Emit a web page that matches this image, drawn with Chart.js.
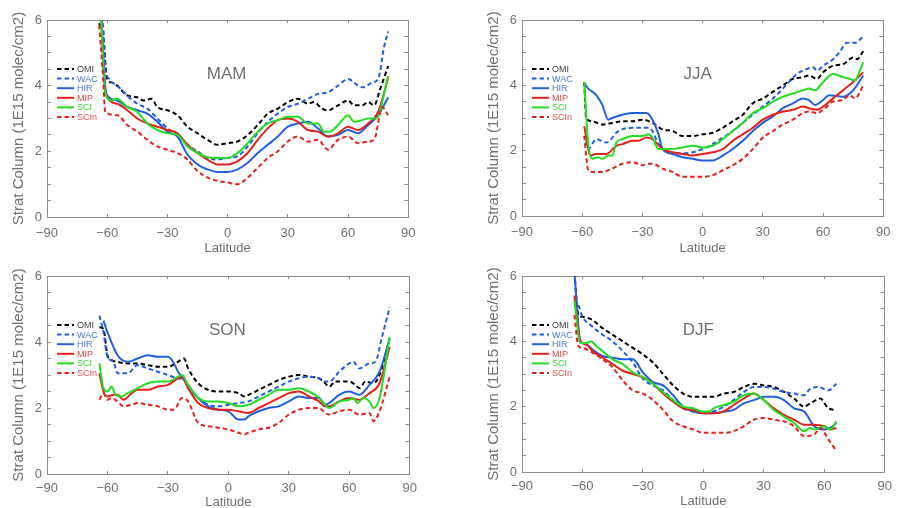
<!DOCTYPE html>
<html>
<head>
<meta charset="utf-8">
<script src="https://cdn.jsdelivr.net/npm/chart.js@4"></script>
<style>
html, body { margin: 0; padding: 0; background: #fff; overflow: hidden; }
canvas { position: absolute; }
</style>
</head>
<body>
<canvas id="mam" width="427" height="256" style="left:0;top:0"></canvas>
<canvas id="jja" width="427" height="256" style="left:475px;top:0"></canvas>
<canvas id="son" width="427" height="254" style="left:0;top:256px"></canvas>
<canvas id="djf" width="427" height="253" style="left:475px;top:256px"></canvas>
<script>
// Series names, in legend order
const SERIES = ['OMI', 'WAC', 'HIR', 'MIP', 'SCI', 'SCIn'];
const X_TICKS = [-90, -60, -30, 0, 30, 60, 90];
const Y_LABELS = [0, 2, 4, 6];

// [latitude, column] pairs
const mamOMI  = [[-64,5.9],[-62,5.5],[-60,4.2],[-58,4.1],[-55,4.0],[-50,3.7],[-45,3.65],[-42,3.55],[-38,3.6],[-35,3.35],[-30,3.25],[-25,3.1],[-20,2.75],[-15,2.55],[-10,2.35],[-5,2.2],[0,2.25],[5,2.3],[10,2.5],[15,2.8],[20,3.15],[25,3.3],[30,3.5],[35,3.6],[40,3.45],[43,3.5],[47,3.3],[50,3.25],[55,3.4],[60,3.55],[63,3.4],[67,3.4],[70,3.5],[73,3.4],[76,3.9],[80,4.6]];
const mamWAC  = [[-64,6.1],[-62,5.8],[-61,4.6],[-59,4.2],[-55,4.0],[-50,3.7],[-45,3.45],[-40,3.3],[-35,3.0],[-30,2.7],[-25,2.5],[-20,2.2],[-15,2.0],[-10,1.8],[-5,1.75],[0,1.8],[5,1.85],[10,2.15],[15,2.55],[20,2.9],[25,3.15],[30,3.35],[35,3.45],[40,3.6],[45,3.75],[50,3.8],[55,4.0],[60,4.2],[65,4.0],[68,3.95],[72,4.1],[75,4.2],[78,5.2],[80,5.65]];
const mamHIR  = [[-63,6.2],[-61,4.0],[-60,3.7],[-55,3.55],[-50,3.35],[-45,3.25],[-40,3.15],[-35,2.9],[-30,2.6],[-25,2.45],[-20,1.9],[-15,1.6],[-10,1.45],[-5,1.37],[0,1.37],[5,1.45],[10,1.65],[15,1.95],[20,2.2],[25,2.45],[30,2.75],[35,2.85],[40,2.9],[45,2.7],[50,2.45],[55,2.5],[60,2.65],[65,2.55],[70,2.8],[75,3.1],[80,3.65]];
const mamMIP  = [[-63,6.0],[-61,3.8],[-55,3.45],[-50,3.25],[-45,3.0],[-40,2.85],[-35,2.75],[-30,2.65],[-25,2.55],[-20,2.2],[-15,1.95],[-10,1.75],[-5,1.6],[0,1.6],[5,1.7],[10,1.95],[15,2.35],[20,2.7],[25,2.95],[30,3.0],[35,2.9],[40,2.65],[45,2.6],[50,2.45],[55,2.55],[60,2.75],[65,2.65],[70,2.85],[75,3.2],[80,4.25]];
const mamSCI  = [[-63,6.0],[-61,3.8],[-58,3.55],[-55,3.6],[-50,3.35],[-45,3.2],[-40,2.85],[-35,2.65],[-30,2.55],[-25,2.5],[-20,2.15],[-15,1.95],[-10,1.82],[-5,1.8],[0,1.8],[5,1.95],[10,2.25],[15,2.6],[20,2.85],[25,2.95],[30,3.05],[35,3.05],[40,2.85],[45,2.85],[48,2.6],[51,2.6],[55,2.8],[60,3.1],[63,2.9],[67,2.95],[70,3.0],[74,3.0],[80,4.3]];
const mamSCIn = [[-64,5.85],[-62,4.2],[-61,3.2],[-55,3.1],[-50,2.8],[-45,2.6],[-40,2.35],[-35,2.15],[-30,2.05],[-25,1.95],[-20,1.75],[-15,1.4],[-10,1.2],[-5,1.1],[0,1.05],[5,1.0],[10,1.2],[15,1.5],[20,1.8],[25,2.0],[30,2.3],[35,2.45],[40,2.3],[45,2.35],[50,2.05],[55,2.35],[60,2.45],[65,2.25],[70,2.3],[73,2.35],[77,3.35],[80,3.1]];

const jjaOMI  = [[-59,4.1],[-58,3.0],[-55,2.9],[-50,2.8],[-45,2.85],[-40,2.9],[-35,2.9],[-30,2.95],[-25,2.85],[-20,2.65],[-15,2.6],[-10,2.45],[-5,2.45],[0,2.5],[5,2.55],[10,2.7],[15,2.9],[20,3.1],[25,3.45],[30,3.6],[35,3.8],[40,4.0],[45,4.2],[50,4.25],[53,4.3],[57,4.2],[60,4.4],[65,4.6],[70,4.65],[75,4.85],[77,4.8],[80,5.05]];
const jjaWAC  = [[-58,2.3],[-57,2.05],[-53,2.35],[-48,2.25],[-42,2.6],[-35,2.7],[-27,2.7],[-25,2.6],[-22,2.2],[-18,2.0],[-10,1.92],[-5,1.95],[0,2.05],[5,2.2],[10,2.4],[15,2.6],[20,2.85],[25,3.1],[30,3.35],[35,3.6],[40,3.9],[43,4.1],[47,4.35],[52,4.5],[55,4.55],[57,4.45],[60,4.6],[65,4.8],[68,5.0],[72,5.3],[76,5.3],[80,5.5]];
const jjaHIR  = [[-59,4.05],[-57,3.9],[-53,3.7],[-50,3.4],[-47,2.95],[-45,3.0],[-40,3.1],[-35,3.15],[-28,3.15],[-25,2.95],[-22,2.5],[-20,2.05],[-15,1.9],[-10,1.8],[-5,1.75],[0,1.7],[5,1.7],[10,1.85],[15,2.05],[20,2.3],[25,2.6],[30,2.85],[35,3.05],[40,3.3],[45,3.45],[50,3.6],[53,3.55],[56,3.4],[60,3.55],[63,3.7],[70,3.65],[75,3.85],[80,4.3]];
const jjaMIP  = [[-59,2.75],[-56,1.85],[-53,1.9],[-48,1.9],[-43,2.15],[-40,2.2],[-35,2.3],[-32,2.3],[-28,2.4],[-25,2.35],[-20,2.05],[-15,1.95],[-10,1.9],[-5,1.85],[0,1.9],[5,1.95],[10,2.05],[15,2.3],[20,2.5],[25,2.7],[30,2.95],[35,3.1],[40,3.2],[45,3.25],[50,3.35],[53,3.3],[57,3.25],[60,3.35],[65,3.6],[70,3.85],[75,4.1],[80,4.4]];
const jjaSCI  = [[-59,4.1],[-57,2.2],[-55,1.75],[-52,1.8],[-50,1.75],[-47,1.85],[-45,1.85],[-43,2.25],[-40,2.35],[-35,2.45],[-30,2.45],[-27,2.5],[-25,2.4],[-22,2.05],[-20,2.05],[-15,2.05],[-10,2.1],[-5,2.15],[0,2.1],[5,2.15],[10,2.35],[15,2.6],[20,2.85],[25,3.15],[30,3.3],[35,3.5],[40,3.65],[45,3.75],[50,3.85],[53,3.9],[56,3.85],[60,4.1],[65,4.35],[70,4.25],[73,4.2],[76,4.15],[78,4.4],[80,4.7]];
const jjaSCIn = [[-59,2.45],[-57,1.4],[-55,1.35],[-50,1.35],[-45,1.45],[-40,1.6],[-35,1.65],[-30,1.55],[-27,1.6],[-25,1.6],[-20,1.45],[-15,1.35],[-10,1.2],[-5,1.2],[0,1.2],[5,1.25],[10,1.4],[15,1.55],[20,1.75],[25,2.05],[30,2.4],[35,2.6],[40,2.8],[45,2.95],[50,3.15],[53,3.2],[57,3.15],[60,3.25],[65,3.5],[70,3.55],[73,3.7],[76,3.6],[80,4.0]];

const sonOMI  = [[-64,4.45],[-62,4.4],[-60,3.6],[-58,3.45],[-55,3.4],[-50,3.35],[-45,3.35],[-40,3.3],[-35,3.25],[-30,3.25],[-25,3.4],[-22,3.5],[-20,3.2],[-15,2.75],[-10,2.55],[-5,2.5],[0,2.5],[5,2.45],[8,2.35],[10,2.4],[15,2.55],[20,2.7],[25,2.85],[30,2.95],[35,3.0],[40,2.95],[45,2.9],[48,2.75],[50,2.65],[53,2.8],[55,2.8],[60,2.8],[63,2.7],[65,2.6],[68,2.8],[72,2.75],[75,3.0],[80,4.1]];
const sonWAC  = [[-64,4.8],[-62,4.3],[-60,3.55],[-57,3.4],[-55,3.05],[-50,3.05],[-45,3.3],[-40,3.2],[-35,3.1],[-30,3.0],[-25,2.9],[-22,2.85],[-20,2.6],[-15,2.3],[-10,2.1],[-5,2.05],[0,2.1],[5,2.15],[10,2.2],[15,2.35],[20,2.5],[25,2.65],[30,2.8],[35,2.9],[40,2.95],[45,2.9],[48,2.8],[50,2.8],[55,3.1],[60,3.35],[62,3.4],[65,3.2],[70,3.35],[73,3.4],[76,4.1],[80,5.05]];
const sonHIR  = [[-62,4.65],[-60,4.3],[-55,3.6],[-50,3.4],[-45,3.5],[-40,3.6],[-35,3.55],[-30,3.55],[-27,3.35],[-25,3.1],[-20,2.7],[-15,2.3],[-10,2.05],[-5,1.95],[0,1.9],[5,1.65],[8,1.65],[10,1.75],[15,1.9],[20,2.0],[25,2.05],[30,2.2],[35,2.35],[40,2.3],[45,2.3],[48,2.1],[50,2.15],[55,2.4],[60,2.5],[65,2.4],[70,2.7],[75,3.1],[80,4.1]];
const sonMIP  = [[-64,3.05],[-62,2.5],[-60,2.35],[-57,2.4],[-55,2.4],[-52,2.25],[-48,2.45],[-45,2.55],[-40,2.55],[-35,2.65],[-30,2.7],[-25,2.9],[-23,2.95],[-20,2.6],[-15,2.15],[-10,2.0],[-5,1.95],[0,1.95],[5,1.9],[10,1.85],[15,2.0],[20,2.15],[25,2.3],[30,2.45],[35,2.5],[40,2.35],[45,2.2],[48,2.05],[50,2.05],[55,2.2],[60,2.3],[65,2.25],[70,2.45],[75,2.75],[80,3.85]];
const sonSCI  = [[-64,3.35],[-62,2.6],[-60,2.5],[-58,2.65],[-56,2.4],[-53,2.35],[-50,2.45],[-45,2.6],[-40,2.75],[-35,2.8],[-30,2.8],[-25,2.95],[-23,3.0],[-20,2.7],[-15,2.3],[-10,2.2],[-5,2.2],[0,2.15],[5,2.05],[10,2.1],[15,2.25],[20,2.4],[25,2.55],[30,2.55],[35,2.6],[40,2.5],[45,2.3],[48,2.1],[50,2.0],[55,2.2],[60,2.25],[62,2.3],[64,2.15],[67,2.3],[70,2.2],[72,2.0],[75,2.3],[80,4.15]];
const sonSCIn = [[-64,2.25],[-62,2.45],[-60,2.25],[-58,2.3],[-55,2.2],[-52,2.05],[-48,2.1],[-45,2.15],[-40,2.1],[-35,2.05],[-30,1.95],[-27,1.95],[-23,2.3],[-20,2.2],[-15,1.55],[-10,1.45],[-5,1.4],[0,1.35],[5,1.25],[8,1.2],[10,1.25],[15,1.35],[20,1.4],[25,1.55],[30,1.8],[35,1.95],[40,2.0],[45,2.0],[48,1.85],[50,1.8],[55,1.9],[60,1.95],[63,1.85],[65,1.8],[70,1.85],[72,1.6],[75,1.9],[80,2.95]];

const djfOMI  = [[-64,6.1],[-62,4.8],[-60,4.75],[-55,4.65],[-50,4.4],[-45,4.2],[-40,4.0],[-35,3.8],[-30,3.6],[-25,3.35],[-20,3.0],[-15,2.65],[-10,2.4],[-5,2.3],[0,2.3],[5,2.3],[10,2.4],[15,2.45],[20,2.6],[25,2.7],[30,2.65],[35,2.6],[40,2.45],[45,2.25],[50,2.0],[53,2.1],[58,2.25],[62,1.95],[66,1.9]];
const djfWAC  = [[-64,5.3],[-62,5.1],[-60,4.75],[-55,4.45],[-50,4.2],[-45,4.0],[-40,3.7],[-35,3.35],[-30,2.85],[-25,2.65],[-20,2.5],[-15,2.2],[-10,1.95],[-5,1.85],[0,1.8],[5,1.85],[10,2.0],[15,2.2],[20,2.45],[25,2.6],[30,2.6],[35,2.55],[40,2.45],[45,2.4],[50,2.35],[53,2.55],[57,2.6],[62,2.5],[66,2.7]];
const djfHIR  = [[-64,6.1],[-61,4.0],[-58,3.9],[-55,3.75],[-50,3.55],[-45,3.5],[-40,3.45],[-35,3.45],[-30,3.05],[-25,2.75],[-20,2.65],[-15,2.35],[-10,2.0],[-5,1.85],[0,1.8],[5,1.8],[10,1.85],[15,1.9],[20,2.1],[25,2.2],[30,2.3],[35,2.3],[40,2.2],[45,1.95],[50,1.85],[55,1.4],[60,1.3],[63,1.35],[66,1.5]];
const djfMIP  = [[-64,5.4],[-61,4.0],[-58,3.9],[-55,3.7],[-50,3.5],[-45,3.3],[-40,3.1],[-35,3.0],[-30,2.9],[-25,2.7],[-20,2.4],[-15,2.15],[-10,1.95],[-5,1.9],[0,1.8],[5,1.8],[10,1.85],[15,2.05],[20,2.25],[25,2.4],[30,2.2],[35,1.95],[40,1.75],[45,1.6],[50,1.45],[55,1.45],[60,1.4],[63,1.3],[66,1.35]];
const djfSCI  = [[-64,5.25],[-61,3.95],[-58,3.95],[-56,4.0],[-53,3.85],[-50,3.7],[-45,3.45],[-40,3.3],[-35,3.05],[-30,2.9],[-25,2.7],[-20,2.45],[-15,2.2],[-10,2.0],[-5,1.95],[0,1.85],[3,1.85],[5,1.95],[10,2.05],[15,2.15],[20,2.35],[25,2.4],[30,2.2],[35,1.9],[40,1.7],[45,1.5],[50,1.25],[53,1.35],[55,1.3],[60,1.4],[63,1.3],[66,1.55]];
const djfSCIn = [[-64,4.8],[-62,3.85],[-60,3.8],[-55,3.65],[-50,3.45],[-45,3.2],[-40,2.8],[-35,2.5],[-30,2.4],[-25,2.2],[-20,1.9],[-15,1.55],[-10,1.4],[-5,1.3],[0,1.2],[5,1.2],[10,1.2],[15,1.25],[20,1.4],[25,1.6],[30,1.65],[35,1.6],[40,1.55],[45,1.4],[50,1.1],[55,1.15],[58,1.35],[62,1.0],[66,0.65]];

const TEXT = '#707070';
const AXIS = '#8c8c8c';
const FONT = '"Liberation Sans", Arial, sans-serif';

// line looks, same order as SERIES
const LINE_COLORS = ['#000000', '#1f5fe0', '#1f5fe0', '#e4201c', '#22dd22', '#e4201c'];
const LEGEND_TEXT = ['#3a3a3a', '#4a78d0', '#4a78d0', '#d04848', '#3ccf3c', '#cc5050'];
const DASHED = [true, true, false, false, false, true];

const fmtLat = v => v < 0 ? '\u2212' + Math.abs(v) : String(v);

// season name + little legend in the upper left of each panel
const panelDecor = {
  id: 'panelDecor',
  afterDatasetsDraw(chart, args, opts) {
    const {ctx, chartArea: a, scales} = chart;
    ctx.save();
    ctx.font = '17px ' + FONT;
    ctx.fillStyle = TEXT;
    ctx.textAlign = 'center';
    ctx.textBaseline = 'middle';
    ctx.fillText(opts.label, scales.x.getPixelForValue(opts.labelLat), scales.y.getPixelForValue(4.35));

    ctx.font = '9px ' + FONT;
    ctx.textAlign = 'left';
    chart.data.datasets.forEach((ds, i) => {
      const y = a.top + 49 + i * 9.6;
      ctx.strokeStyle = ds.borderColor;
      ctx.lineWidth = 2;
      ctx.setLineDash(ds.borderDash || []);
      ctx.beginPath();
      ctx.moveTo(a.left + 10, y);
      ctx.lineTo(a.left + 27, y);
      ctx.stroke();
      ctx.fillStyle = LEGEND_TEXT[i];
      ctx.fillText(ds.label, a.left + 30, y + 0.5);
    });
    ctx.restore();
  }
};

function makePanel(id, label, labelLat, xAxisHeight, labelPad, seriesData) {
  const datasets = seriesData.map((pts, i) => ({
    label: SERIES[i],
    data: pts.map(p => ({x: p[0], y: p[1]})),
    borderColor: LINE_COLORS[i],
    borderWidth: 2,
    borderDash: DASHED[i] ? [4.5, 3] : undefined,
    pointRadius: 0,
    cubicInterpolationMode: 'monotone',
    fill: false,
    order: SERIES.length - i,
    xAxisID: 'x',
    yAxisID: 'y'
  }));

  new Chart(document.getElementById(id), {
    type: 'line',
    data: {datasets},
    plugins: [panelDecor],
    options: {
      responsive: false,
      animation: false,
      layout: {padding: {top: 20, right: 8, left: 0, bottom: 0}},
      plugins: {
        legend: {display: false},
        tooltip: {enabled: false},
        panelDecor: {label, labelLat}
      },
      scales: {
        x: {
          type: 'linear', position: 'bottom', min: -90, max: 90,
          afterBuildTicks: s => { s.ticks = X_TICKS.map(v => ({value: v})); },
          ticks: {autoSkip: false, maxRotation: 0, padding: labelPad, color: TEXT,
                  font: {family: FONT, size: 13}, callback: v => fmtLat(v)},
          grid: {drawOnChartArea: false, tickLength: -3, color: AXIS},
          border: {color: AXIS, width: 1},
          title: {display: true, text: 'Latitude', color: TEXT,
                  font: {family: FONT, size: 13}, padding: {top: 0, bottom: 0}},
          afterFit: s => { s.height = xAxisHeight; }
        },
        x2: {
          type: 'linear', position: 'top', min: -90, max: 90,
          afterBuildTicks: s => { s.ticks = X_TICKS.map(v => ({value: v})); },
          ticks: {display: false},
          grid: {drawOnChartArea: false, tickLength: -3, color: AXIS},
          border: {color: AXIS, width: 1},
          afterFit: s => { s.height = 0; }
        },
        y: {
          position: 'left', min: 0, max: 6,
          ticks: {stepSize: 0.5, autoSkip: false, padding: 9, color: TEXT,
                  font: {family: FONT, size: 13},
                  callback: v => Y_LABELS.includes(v) ? String(v) : ''},
          grid: {drawOnChartArea: false, tickLength: -4, color: AXIS},
          border: {color: AXIS, width: 1},
          title: {display: true, text: 'Strat Column (1E15 molec/cm2)', color: TEXT,
                  font: {family: FONT, size: 15}, padding: {top: 10, bottom: 0}},
          afterFit: s => { s.width = 47; }
        },
        y2: {
          position: 'right', min: 0, max: 6,
          ticks: {display: false, stepSize: 0.5, autoSkip: false},
          grid: {drawOnChartArea: false, tickLength: -4, color: AXIS},
          border: {color: AXIS, width: 1},
          afterFit: s => { s.width = 0; }
        }
      }
    }
  });
}

makePanel('mam', 'MAM', -0.5, 39, 11.5, [mamOMI, mamWAC, mamHIR, mamMIP, mamSCI, mamSCIn]);
makePanel('jja', 'JJA', -2.5, 40, 11.5, [jjaOMI, jjaWAC, jjaHIR, jjaMIP, jjaSCI, jjaSCIn]);
makePanel('son', 'SON', -0.5, 36, 10, [sonOMI, sonWAC, sonHIR, sonMIP, sonSCI, sonSCIn]);
makePanel('djf', 'DJF', -2.5, 37, 10, [djfOMI, djfWAC, djfHIR, djfMIP, djfSCI, djfSCIn]);
</script>
</body>
</html>
